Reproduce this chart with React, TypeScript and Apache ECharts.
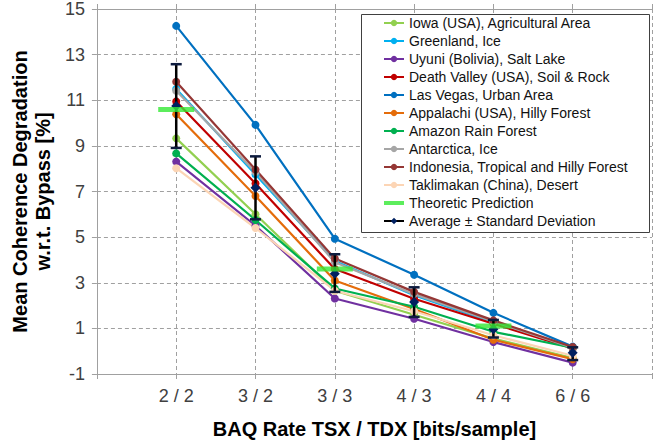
import React, { useEffect, useRef } from "react";
import * as echarts from "echarts";

const categories = ["2 / 2", "3 / 2", "3 / 3", "4 / 3", "4 / 4", "6 / 6"];
const yTickValues = [-1, 1, 3, 5, 7, 9, 11, 13, 15];

const iowa = [9.33, 6.0, 2.65, 1.6, 0.55, -0.3];
const greenland = [11.49, 7.75, 3.95, 2.45, 1.25, 0.17];
const uyuni = [8.31, 5.5, 2.31, 1.42, 0.4, -0.5];
const deathValley = [10.95, 7.35, 3.6, 2.3, 1.2, 0.12];
const lasVegas = [14.26, 9.92, 4.93, 3.35, 1.68, 0.2];
const appalachi = [10.39, 6.8, 3.1, 1.85, 0.5, -0.35];
const amazon = [8.67, 5.75, 2.75, 1.95, 0.85, 0.15];
const antarctica = [11.42, 7.85, 3.9, 2.5, 1.3, 0.15];
const indonesia = [11.81, 7.96, 4.06, 2.6, 1.35, 0.18];
const taklimakan = [8.02, 5.4, 2.65, 1.75, 0.7, -0.2];

const theoryCategories = ["2 / 2", "3 / 3", "4 / 4"];
const theoryValues = [10.6, 3.6, 1.1];

const averageValues = [10.75, 7.16, 3.4, 2.16, 0.96, -0.07];
const sdLow = [8.91, 5.78, 2.6, 1.5, 0.6, -0.39];
const sdHigh = [12.58, 8.54, 4.25, 2.8, 1.37, 0.17];

const siteSeries = [
  { name: "Iowa (USA), Agricultural Area", color: "#92D050", data: iowa },
  { name: "Greenland, Ice", color: "#00B0F0", data: greenland },
  { name: "Uyuni (Bolivia), Salt Lake", color: "#7030A0", data: uyuni },
  { name: "Death Valley (USA), Soil & Rock", color: "#C00000", data: deathValley },
  { name: "Las Vegas, Urban Area", color: "#0070C0", data: lasVegas },
  { name: "Appalachi (USA), Hilly Forest", color: "#E46C0A", data: appalachi },
  { name: "Amazon Rain Forest", color: "#00B050", data: amazon },
  { name: "Antarctica, Ice", color: "#A6A6A6", data: antarctica },
  { name: "Indonesia, Tropical and Hilly Forest", color: "#953735", data: indonesia },
  { name: "Taklimakan (China), Desert", color: "#FCD5B5", data: taklimakan },
];

const THEORY = "Theoretic Prediction";
const AVG = "Average \u00B1 Standard Deviation";
const FONT = "'Liberation Sans', Arial, sans-serif";

export default function App() {
  const ref = useRef<HTMLDivElement>(null);
  useEffect(() => {
    if (!ref.current) return;
    const chart = echarts.init(ref.current, null, { renderer: "svg" });
    const pos = (i: number) => i + 1;
    const grid = "#A0A0A0";
    const option: any = {
      animation: false,
      backgroundColor: "#fff",
      textStyle: { fontFamily: FONT },
      grid: { left: 94, top: 8, width: 567, height: 366 },
      xAxis: [
        {
          type: "value",
          min: 0,
          max: 7,
          interval: 1,
          name: "BAQ Rate TSX / TDX [bits/sample]",
          nameLocation: "middle",
          nameGap: 45,
          nameTextStyle: { fontFamily: FONT, fontSize: 20, fontWeight: "bold", color: "#000" },
          axisLine: { onZero: false, lineStyle: { color: grid, width: 1 } },
          axisTick: { show: true, inside: false, length: 5, lineStyle: { color: grid } },
          axisLabel: {
            fontFamily: FONT,
            fontSize: 18,
            color: "#404040",
            margin: 13,
            formatter: (v: number) => (v >= 1 && v <= categories.length ? categories[v - 1] : ""),
          },
          splitLine: { show: true, lineStyle: { color: grid, type: [4, 3], width: 1 } },
        },
        {
          type: "value",
          position: "top",
          min: 0,
          max: 7,
          interval: 1,
          axisLine: { show: true, onZero: false, lineStyle: { color: grid, width: 1 } },
          axisTick: { show: true, inside: false, length: 5, lineStyle: { color: grid } },
          axisLabel: { show: false },
          splitLine: { show: false },
        },
      ],
      yAxis: {
        type: "value",
        min: -1,
        max: 15,
        interval: 1,
        name: "Mean Coherence Degradation\nw.r.t. Bypass [%]",
        nameLocation: "middle",
        nameGap: 42,
        nameTextStyle: { fontFamily: FONT, fontSize: 20, fontWeight: "bold", color: "#000", lineHeight: 23 },
        axisLine: { show: true, onZero: false, lineStyle: { color: grid, width: 1 } },
        axisTick: { show: true, inside: false, length: 5, customValues: yTickValues, lineStyle: { color: grid } },
        axisLabel: { fontFamily: FONT, fontSize: 18, color: "#404040", margin: 12, customValues: yTickValues },
        splitLine: { show: true, lineStyle: { color: grid, type: [4, 3], width: 1 } },
      },
      legend: {
        orient: "vertical",
        left: 383,
        top: 16,
        padding: 0,
        itemGap: 4,
        itemWidth: 20,
        itemHeight: 8,
        textStyle: { fontFamily: FONT, fontSize: 14, color: "#111", lineHeight: 14 },
        data: [
          ...siteSeries.map((s) => ({ name: s.name })),
          { name: THEORY, icon: "path://M0 0H20V4H0Z" },
          { name: AVG, lineStyle: { color: "#000", width: 2, opacity: 1 } },
        ],
      },
      graphic: [
        {
          type: "rect",
          z: 1,
          shape: { x: 361.5, y: 14.5, width: 288, height: 218 },
          style: { fill: "#fff", stroke: "#404040", lineWidth: 1 },
        },
      ],
      series: [
        ...siteSeries.map((s) => ({
          type: "line",
          name: s.name,
          z: 2,
          data: s.data.map((v, i) => [pos(i), v]),
          symbol: "circle",
          symbolSize: 8,
          itemStyle: { color: s.color },
          lineStyle: { color: s.color, width: 2.2 },
        })),
        {
          type: "custom",
          name: "errorbars",
          z: 3,
          encode: { x: 0, y: [1, 2] },
          data: sdLow.map((lo, i) => [pos(i), lo, sdHigh[i]]),
          renderItem: (params: any, api: any) => {
            const x = api.value(0);
            const lo = api.coord([x, api.value(1)]);
            const hi = api.coord([x, api.value(2)]);
            const w = 5.5;
            return {
              type: "group",
              children: [
                { type: "line", shape: { x1: lo[0], y1: lo[1], x2: hi[0], y2: hi[1] }, style: { stroke: "#000", lineWidth: 2.5 } },
                { type: "line", shape: { x1: hi[0] - w, y1: hi[1], x2: hi[0] + w, y2: hi[1] }, style: { stroke: "#0D1B3E", lineWidth: 2.5 } },
                { type: "line", shape: { x1: lo[0] - w, y1: lo[1], x2: lo[0] + w, y2: lo[1] }, style: { stroke: "#0D1B3E", lineWidth: 2.5 } },
              ],
            };
          },
        },
        {
          type: "line",
          name: AVG,
          z: 4,
          data: averageValues.map((v, i) => [pos(i), v]),
          symbol: "diamond",
          symbolSize: 10,
          itemStyle: { color: "#002060" },
          lineStyle: { opacity: 0 },
        },
        {
          type: "scatter",
          name: THEORY,
          z: 5,
          data: theoryValues.map((v, i) => [categories.indexOf(theoryCategories[i]) + 1, v]),
          symbol: "rect",
          symbolSize: [36, 5],
          itemStyle: { color: "#33E833" },
        },
      ],
    };
    chart.setOption(option);
    return () => chart.dispose();
  }, []);
  return <div ref={ref} style={{ width: 655, height: 444, position: "absolute", left: 0, top: 0 }} />;
}
